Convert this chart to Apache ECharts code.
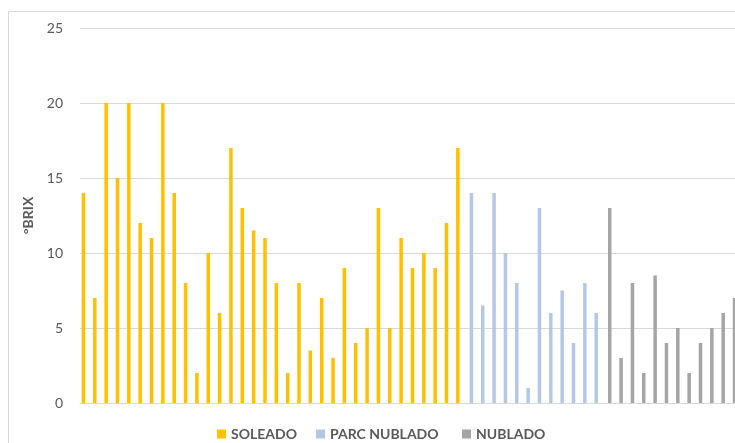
<!DOCTYPE html>
<html>
<head>
<meta charset="utf-8">
<script src="https://cdn.jsdelivr.net/npm/echarts@6/dist/echarts.min.js"></script>
<style>
  html, body { margin: 0; padding: 0; background: #fff; }
  #chart { width: 735px; height: 443px; }
</style>
</head>
<body>
<div id="chart"></div>
<script>
// °Brix readings, one sample per column, grouped by sky condition
const soleado = [14, 7, 20, 15, 20, 12, 11, 20, 14, 8, 2, 10, 6, 17, 13, 11.5, 11,
                 8, 2, 8, 3.5, 7, 3, 9, 4, 5, 13, 5, 11, 9, 10, 9, 12, 17];
const parcNublado = [14, 6.5, 14, 10, 8, 1, 13, 6, 7.5, 4, 8, 6];
const nublado = [13, 3, 8, 2, 8.5, 4, 5, 2, 4, 5, 6, 7];

const seriesNames = ['SOLEADO', 'PARC NUBLADO', 'NUBLADO'];
const seriesColors = ['#FFC000', '#B4C7E7', '#A5A5A5'];
const yTicks = [0, 5, 10, 15, 20, 25];

// one category per sample; each group only fills its own stretch of columns
const groups = [soleado, parcNublado, nublado];
const total = groups.reduce((n, g) => n + g.length, 0);
const categories = Array.from({ length: total }, (_, i) => String(i + 1));

let start = 0;
const series = groups.map((vals, gi) => {
  const data = new Array(total).fill(null);
  vals.forEach((v, i) => { data[start + i] = v; });
  start += vals.length;
  return {
    name: seriesNames[gi],
    type: 'bar',
    data: data,
    barWidth: 3.5,
    barGap: '-37%',
    itemStyle: { color: seriesColors[gi] },
    emphasis: { disabled: true }
  };
});

const FONT = 'Lato, "Open Sans", "Liberation Sans", sans-serif';

// one legend entry per block so each key sits at its own spot along the bottom
const legendLefts = [212, 311, 457];
const legends = seriesNames.map((name, i) => ({
  data: [name],
  left: legendLefts[i],
  bottom: -3,
  itemWidth: 9,
  itemHeight: 9,
  icon: 'rect',
  textStyle: { color: '#595959', fontSize: 14, fontWeight: 'bold', fontFamily: FONT }
}));

const chart = echarts.init(document.getElementById('chart'), null, { renderer: 'canvas' });
chart.setOption({
  animation: false,
  backgroundColor: '#ffffff',
  graphic: [{
    type: 'rect',
    shape: { x: 8.5, y: 11.5, width: 760, height: 460 },
    style: { fill: 'none', stroke: '#d9d9d9', lineWidth: 1 },
    silent: true,
    z: -1
  }],
  // plot area runs slightly past the right edge of the canvas
  grid: { left: 80, width: 658, top: 28, bottom: 40, containLabel: false, outerBoundsMode: 'none' },
  legend: legends,
  xAxis: {
    type: 'category',
    data: categories,
    axisLine: { show: true, lineStyle: { color: '#d9d9d9', width: 1 } },
    axisTick: { show: false },
    axisLabel: { show: false },
    splitLine: { show: false }
  },
  yAxis: {
    type: 'value',
    min: yTicks[0],
    max: yTicks[yTicks.length - 1],
    interval: yTicks[1] - yTicks[0],
    name: '°BRIX',
    nameLocation: 'middle',
    nameGap: 44,
    nameRotate: 90,
    nameTextStyle: { color: '#595959', fontSize: 14, fontWeight: 'bold', fontFamily: FONT },
    axisLine: { show: false },
    axisTick: { show: false },
    axisLabel: { color: '#595959', fontSize: 14, fontFamily: FONT, margin: 17 },
    splitLine: { lineStyle: { color: '#d9d9d9', width: 1 } }
  },
  series: series
});
</script>
</body>
</html>
